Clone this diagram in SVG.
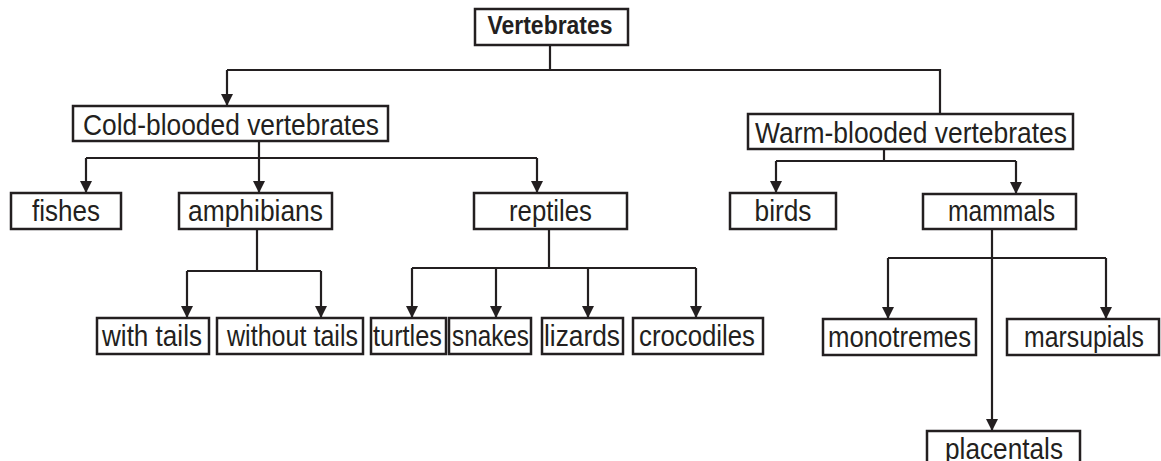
<svg xmlns="http://www.w3.org/2000/svg" width="1161" height="461" viewBox="0 0 1161 461">
<style>
.box{fill:#fff;stroke:#231f20;stroke-width:2.5}
.t{font-family:"Liberation Sans",Arial,sans-serif;font-size:29px;fill:#231f20;text-anchor:middle}
.b{font-weight:bold;font-size:25px}
.c{fill:none;stroke:#231f20;stroke-width:2.2}
</style>
<defs>
<marker id="ah" markerUnits="userSpaceOnUse" markerWidth="12" markerHeight="12" refX="12" refY="6" orient="auto">
<path d="M0,0 L12,6 L0,12 z" fill="#231f20"/>
</marker>
</defs>
<g id="connectors">
<path class="c" d="M550,45 V70 M227,70 H940 V114"/>
<path class="c" d="M227,70 V106" marker-end="url(#ah)"/>
<path class="c" d="M259,141 V158 M86,158 H537"/>
<path class="c" d="M86,158 V193" marker-end="url(#ah)"/>
<path class="c" d="M259,158 V193" marker-end="url(#ah)"/>
<path class="c" d="M537,158 V193" marker-end="url(#ah)"/>
<path class="c" d="M884,149 V161 M776,161 H1016"/>
<path class="c" d="M776,161 V193" marker-end="url(#ah)"/>
<path class="c" d="M1016,161 V194" marker-end="url(#ah)"/>
<path class="c" d="M257,229 V271 M187,271 H321"/>
<path class="c" d="M187,271 V318" marker-end="url(#ah)"/>
<path class="c" d="M321,271 V318" marker-end="url(#ah)"/>
<path class="c" d="M549,229 V268 M412,268 H696"/>
<path class="c" d="M412,268 V318" marker-end="url(#ah)"/>
<path class="c" d="M496,268 V318" marker-end="url(#ah)"/>
<path class="c" d="M588,268 V318" marker-end="url(#ah)"/>
<path class="c" d="M696,268 V318" marker-end="url(#ah)"/>
<path class="c" d="M888,258 H1106"/>
<path class="c" d="M992,229 V431" marker-end="url(#ah)"/>
<path class="c" d="M888,258 V319" marker-end="url(#ah)"/>
<path class="c" d="M1106,258 V319" marker-end="url(#ah)"/>
</g>
<g id="vertebrates"><rect class="box" x="475" y="9" width="153" height="36"/><text class="t b" x="550" y="34" textLength="125" lengthAdjust="spacingAndGlyphs">Vertebrates</text></g>
<g id="cold"><rect class="box" x="73" y="106" width="315" height="35"/><text class="t" x="231" y="134.5" textLength="296" lengthAdjust="spacingAndGlyphs">Cold-blooded vertebrates</text></g>
<g id="warm"><rect class="box" x="748" y="114" width="325" height="35"/><text class="t" x="911" y="142.5" textLength="312" lengthAdjust="spacingAndGlyphs">Warm-blooded vertebrates</text></g>
<g id="fishes"><rect class="box" x="11" y="193" width="110" height="36"/><text class="t" x="66" y="220.5" textLength="68" lengthAdjust="spacingAndGlyphs">fishes</text></g>
<g id="amphibians"><rect class="box" x="179" y="193" width="153" height="36"/><text class="t" x="255.5" y="220.5" textLength="135" lengthAdjust="spacingAndGlyphs">amphibians</text></g>
<g id="reptiles"><rect class="box" x="474" y="193" width="153" height="36"/><text class="t" x="550.5" y="220.5" textLength="83" lengthAdjust="spacingAndGlyphs">reptiles</text></g>
<g id="birds"><rect class="box" x="730" y="193" width="106" height="36"/><text class="t" x="783" y="220.5" textLength="57" lengthAdjust="spacingAndGlyphs">birds</text></g>
<g id="mammals"><rect class="box" x="923" y="194" width="153" height="35"/><text class="t" x="1001.5" y="221" textLength="107" lengthAdjust="spacingAndGlyphs">mammals</text></g>
<g id="with-tails"><rect class="box" x="97" y="318" width="112" height="36"/><text class="t" x="152" y="345.5" textLength="100" lengthAdjust="spacingAndGlyphs">with tails</text></g>
<g id="without-tails"><rect class="box" x="217" y="318" width="146" height="36"/><text class="t" x="292.5" y="345.5" textLength="131" lengthAdjust="spacingAndGlyphs">without tails</text></g>
<g id="turtles"><rect class="box" x="371" y="318" width="75" height="36"/><text class="t" x="407.5" y="345.5" textLength="69" lengthAdjust="spacingAndGlyphs">turtles</text></g>
<g id="snakes"><rect class="box" x="449" y="318" width="82" height="36"/><text class="t" x="490.5" y="345.5" textLength="77" lengthAdjust="spacingAndGlyphs">snakes</text></g>
<g id="lizards"><rect class="box" x="542" y="318" width="81" height="36"/><text class="t" x="582" y="345.5" textLength="76" lengthAdjust="spacingAndGlyphs">lizards</text></g>
<g id="crocodiles"><rect class="box" x="633" y="318" width="130" height="36"/><text class="t" x="697" y="345.5" textLength="116" lengthAdjust="spacingAndGlyphs">crocodiles</text></g>
<g id="monotremes"><rect class="box" x="823" y="319" width="153" height="36"/><text class="t" x="899.5" y="346.5" textLength="143" lengthAdjust="spacingAndGlyphs">monotremes</text></g>
<g id="marsupials"><rect class="box" x="1007" y="319" width="152" height="36"/><text class="t" x="1084" y="346.5" textLength="120" lengthAdjust="spacingAndGlyphs">marsupials</text></g>
<g id="placentals"><rect class="box" x="927" y="431" width="153" height="36"/><text class="t" x="1004" y="458.5" textLength="118" lengthAdjust="spacingAndGlyphs">placentals</text></g>
</svg>
